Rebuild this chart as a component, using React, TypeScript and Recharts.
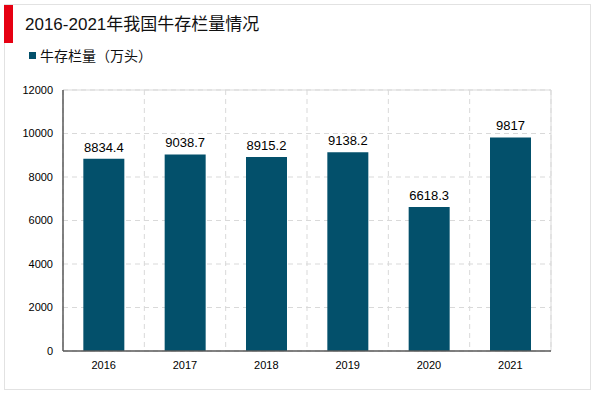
import React from "react";
import {
  BarChart, Bar, XAxis, YAxis, CartesianGrid, LabelList, ReferenceLine,
} from "recharts";

const years = ["2016", "2017", "2018", "2019", "2020", "2021"];
const cattle = [8834.4, 9038.7, 8915.2, 9138.2, 6618.3, 9817];
const yTicks = [0, 2000, 4000, 6000, 8000, 10000, 12000];

const data = years.map((year, i) => ({ year, value: cattle[i] }));

const FONT = '"Liberation Sans", Arial, "Noto Sans CJK SC", sans-serif';
const BAR_COLOR = "#03506b";

// grid lines sit on the category boundaries, not the centers
const boundaryLines = ({ offset }: any) =>
  years.map((_, i) => offset.left + (i * offset.width) / years.length).concat(offset.left + offset.width);

const rightEdge = ({ offset }: any) => [offset.left + offset.width];

export default function App() {
  return (
    <div style={{ position: "absolute", left: 0, top: 0, width: 600, height: 393, background: "#fff", fontFamily: FONT }}>
      <div style={{ position: "absolute", left: 4, top: 4, width: 585, height: 384, border: "1px solid #e2e2e2" }} />
      <div style={{ position: "absolute", left: 4, top: 5, width: 9, height: 38, background: "#e60012" }} />
      <div style={{ position: "absolute", left: 25, top: 13, fontSize: 17, color: "#111", lineHeight: "24px" }}>
        2016-2021年我国牛存栏量情况
      </div>
      <div style={{ position: "absolute", left: 29, top: 45, display: "flex", alignItems: "center", fontSize: 14, color: "#111" }}>
        <span style={{ width: 7, height: 7, background: BAR_COLOR, marginRight: 4, display: "inline-block" }} />
        牛存栏量（万头）
      </div>
      <div style={{ position: "absolute", left: 0, top: 0 }}>
        <BarChart width={600} height={393} data={data} margin={{ top: 90, right: 49, bottom: 12, left: 0 }} barCategoryGap="25%">
          <CartesianGrid stroke="#d9d9d9" strokeDasharray="5 4" verticalCoordinatesGenerator={boundaryLines} />
          <CartesianGrid stroke="#d9d9d9" horizontal={false} verticalCoordinatesGenerator={rightEdge} />
          <ReferenceLine y={12000} stroke="#d9d9d9" />
          <XAxis
            dataKey="year"
            height={30}
            stroke="#595959"
            strokeWidth={1.5}
            tickLine={false}
            tickSize={0}
            tickMargin={10}
            tick={{ fill: "#000", fontSize: 11, fontFamily: FONT }}
          />
          <YAxis
            width={63}
            domain={[0, 12000]}
            ticks={yTicks}
            interval={0}
            stroke="#595959"
            strokeWidth={1.5}
            tickLine={false}
            tickSize={0}
            tickMargin={10}
            tick={{ fill: "#000", fontSize: 11, fontFamily: FONT }}
          />
          <Bar dataKey="value" fill={BAR_COLOR} isAnimationActive={false}>
            <LabelList dataKey="value" position="top" offset={7} fill="#000" fontSize={13} fontFamily={FONT} />
          </Bar>
        </BarChart>
      </div>
    </div>
  );
}
